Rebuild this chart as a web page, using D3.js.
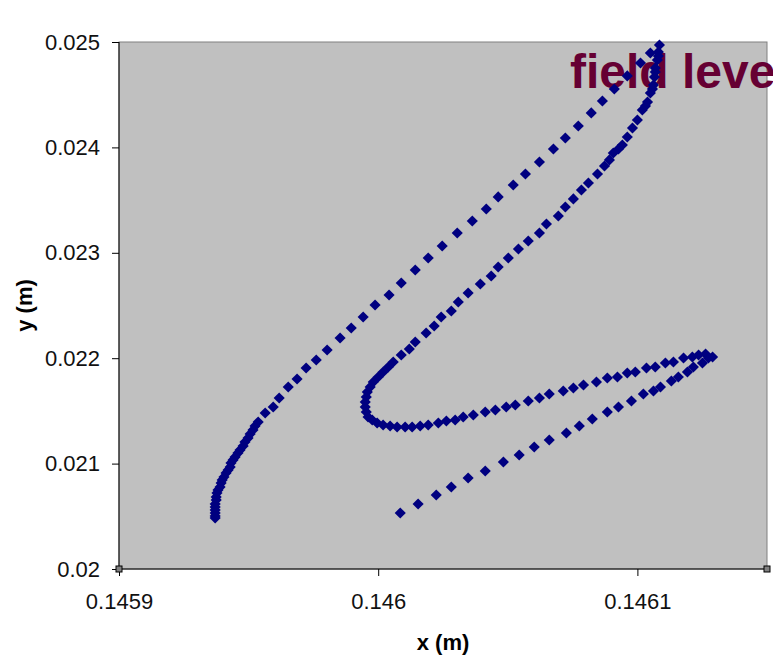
<!DOCTYPE html>
<html>
<head>
<meta charset="utf-8">
<script src="https://cdn.jsdelivr.net/npm/d3@7"></script>
<style>
  body { margin: 0; background: #fff; }
  svg { display: block; }
</style>
</head>
<body>
<div id="chart"></div>
<script>
// trajectory, in metres, in the order it was recorded
var xs = [
  0.1460085, 0.1460154, 0.1460224, 0.1460282, 0.1460347, 0.1460413, 0.1460483, 0.1460544,
  0.1460602, 0.1460660, 0.1460726, 0.1460776, 0.1460826, 0.1460884, 0.1460927, 0.1460977,
  0.1461023, 0.1461062, 0.1461089, 0.1461131, 0.1461158, 0.1461193, 0.1461216, 0.1461251,
  0.1461274, 0.1461290,
  0.1461263, 0.1461236, 0.1461212, 0.1461178, 0.1461139, 0.1461108, 0.1461069, 0.1461035,
  0.1460992, 0.1460961, 0.1460923, 0.1460884, 0.1460842, 0.1460792, 0.1460753, 0.1460714,
  0.1460660, 0.1460622, 0.1460579, 0.1460529, 0.1460494, 0.1460452, 0.1460413, 0.1460367,
  0.1460328, 0.1460297, 0.1460263, 0.1460232, 0.1460193, 0.1460162, 0.1460131, 0.1460104,
  0.1460073, 0.1460046, 0.1460019, 0.1459996, 0.1459977, 0.1459961, 0.1459954, 0.1459950,
  0.1459950, 0.1459954, 0.1459958, 0.1459969, 0.1459981, 0.1460000, 0.1460019, 0.1460039,
  0.1460058, 0.1460089, 0.1460120, 0.1460143, 0.1460185, 0.1460216, 0.1460243, 0.1460282,
  0.1460309, 0.1460347, 0.1460394, 0.1460436, 0.1460463, 0.1460502, 0.1460541, 0.1460579,
  0.1460622, 0.1460649, 0.1460695, 0.1460722, 0.1460753, 0.1460784, 0.1460811, 0.1460846,
  0.1460873, 0.1460892, 0.1460907, 0.1460927, 0.1460942, 0.1460961, 0.1460981, 0.1461000,
  0.1461019, 0.1461031, 0.1461039, 0.1461050, 0.1461058, 0.1461062, 0.1461066, 0.1461069,
  0.1461069, 0.1461077, 0.1461081, 0.1461081, 0.1461085,
  0.1461050, 0.1461012, 0.1460961, 0.1460911, 0.1460865, 0.1460822, 0.1460772, 0.1460722,
  0.1460676, 0.1460622, 0.1460568, 0.1460521, 0.1460463, 0.1460417, 0.1460363, 0.1460305,
  0.1460247, 0.1460193, 0.1460143, 0.1460089, 0.1460042, 0.1459988, 0.1459942, 0.1459896,
  0.1459853, 0.1459803, 0.1459761, 0.1459722, 0.1459687, 0.1459653, 0.1459618, 0.1459595,
  0.1459564, 0.1459537, 0.1459525, 0.1459517, 0.1459506, 0.1459498, 0.1459486, 0.1459479,
  0.1459467, 0.1459459, 0.1459448, 0.1459440, 0.1459432, 0.1459429, 0.1459421, 0.1459413,
  0.1459405, 0.1459398, 0.1459394, 0.1459390, 0.1459382, 0.1459378, 0.1459375, 0.1459375,
  0.1459371, 0.1459371, 0.1459371, 0.1459371, 0.1459371, 0.1459371
]
var ys = [
  0.020531, 0.020617, 0.020702, 0.020778, 0.020863, 0.020930, 0.021015, 0.021082,
  0.021158, 0.021224, 0.021290, 0.021357, 0.021423, 0.021490, 0.021537, 0.021594,
  0.021660, 0.021689, 0.021727, 0.021784, 0.021822, 0.021869, 0.021917, 0.021955,
  0.022002, 0.022011,
  0.022040, 0.022030, 0.022011, 0.022002, 0.021964, 0.021955, 0.021917, 0.021907,
  0.021869, 0.021860, 0.021822, 0.021812, 0.021774, 0.021746, 0.021717, 0.021689,
  0.021660, 0.021622, 0.021594, 0.021556, 0.021537, 0.021509, 0.021490, 0.021461,
  0.021442, 0.021414, 0.021404, 0.021385, 0.021366, 0.021357, 0.021347, 0.021347,
  0.021347, 0.021357, 0.021366, 0.021385, 0.021414, 0.021442, 0.021490, 0.021537,
  0.021584, 0.021632, 0.021679, 0.021727, 0.021774, 0.021822, 0.021869, 0.021917,
  0.021964, 0.022030, 0.022087, 0.022154, 0.022239, 0.022306, 0.022391, 0.022448,
  0.022533, 0.022619, 0.022704, 0.022780, 0.022865, 0.022951, 0.023036, 0.023112,
  0.023188, 0.023273, 0.023349, 0.023435, 0.023511, 0.023596, 0.023662, 0.023748,
  0.023824, 0.023881, 0.023947, 0.023985, 0.024023, 0.024099, 0.024184, 0.024260,
  0.024355, 0.024393, 0.024431, 0.024516, 0.024554, 0.024592, 0.024668, 0.024716,
  0.024753, 0.024829, 0.024867, 0.024905, 0.024972,
  0.024896, 0.024801, 0.024678, 0.024554, 0.024440, 0.024327, 0.024203, 0.024089,
  0.023985, 0.023862, 0.023748, 0.023643, 0.023530, 0.023416, 0.023302, 0.023188,
  0.023065, 0.022951, 0.022837, 0.022714, 0.022600, 0.022505, 0.022391, 0.022287,
  0.022192, 0.022078, 0.021983, 0.021907, 0.021803, 0.021727, 0.021622, 0.021537,
  0.021480, 0.021395, 0.021357, 0.021319, 0.021281, 0.021243, 0.021205, 0.021167,
  0.021129, 0.021101, 0.021063, 0.021034, 0.021006, 0.020968, 0.020939, 0.020911,
  0.020873, 0.020844, 0.020816, 0.020778, 0.020750, 0.020721, 0.020683, 0.020655,
  0.020617, 0.020588, 0.020560, 0.020531, 0.020503, 0.020484
]
var xTicks = [0.1459, 0.146, 0.1461]
var yTicks = [0.02, 0.021, 0.022, 0.023, 0.024, 0.025]
var xLabel = "x (m)"
var yLabel = "y (m)"
var title = "field leve"

var width = 773
var height = 660
var plotLeft = 119, plotRight = 767, plotTop = 42, plotBottom = 569

var svg = d3.select("#chart").append("svg")
    .attr("width", width)
    .attr("height", height)
    .style("font-family", "'Liberation Sans', Arial, sans-serif")

var x = d3.scaleLinear().domain([0.1459, 0.14615]).range([plotLeft, plotRight])
var y = d3.scaleLinear().domain([0.02, 0.025]).range([plotBottom, plotTop])

// plot area
svg.append("rect")
    .attr("x", plotLeft).attr("y", plotTop)
    .attr("width", plotRight - plotLeft).attr("height", plotBottom - plotTop)
    .attr("fill", "#c0c0c0")
    .attr("stroke", "#808080")
    .attr("stroke-width", 1)

var xAxis = svg.append("g")
    .attr("transform", "translate(0," + plotBottom + ")")
    .call(d3.axisBottom(x).tickValues(xTicks).tickSize(7).tickPadding(17).tickFormat(function(d) { return String(d) }))
xAxis.select(".domain").attr("stroke", "#000").attr("d", "M" + plotLeft + ",0H" + plotRight)
xAxis.selectAll("text").attr("font-size", 22).attr("fill", "#111").attr("font-family", null)

var yAxis = svg.append("g")
    .attr("transform", "translate(" + plotLeft + ",0)")
    .call(d3.axisLeft(y).tickValues(yTicks).tickSize(7).tickPadding(12).tickFormat(function(d) { return String(d) }))
yAxis.select(".domain").attr("stroke", "#000").attr("d", "M0," + plotTop + "V" + plotBottom)
yAxis.selectAll("text").attr("font-size", 22).attr("fill", "#111").attr("font-family", null)

// corner handles
svg.selectAll("rect.handle")
    .data([[plotLeft, plotBottom], [plotRight, plotBottom]])
    .enter().append("rect")
    .attr("class", "handle")
    .attr("x", function(d) { return d[0] - 3 })
    .attr("y", function(d) { return d[1] - 3 })
    .attr("width", 6).attr("height", 6)
    .attr("fill", "#808080").attr("stroke", "#000")

svg.append("text")
    .attr("x", (plotLeft + plotRight) / 2)
    .attr("y", 650)
    .attr("text-anchor", "middle")
    .attr("font-size", 22)
    .attr("font-weight", "bold")
    .text(xLabel)

svg.append("text")
    .attr("transform", "translate(32," + (plotTop + plotBottom) / 2 + ") rotate(-90)")
    .attr("text-anchor", "middle")
    .attr("font-size", 22)
    .attr("font-weight", "bold")
    .text(yLabel)

svg.append("text")
    .attr("x", 570)
    .attr("y", 88)
    .attr("font-size", 48)
    .attr("font-weight", "bold")
    .attr("fill", "#660033")
    .text(title)

var diamond = d3.symbol().type(d3.symbolSquare).size(62)
svg.append("g").selectAll("path")
    .data(d3.range(xs.length))
    .enter().append("path")
    .attr("d", diamond)
    .attr("transform", function(i) { return "translate(" + x(xs[i]) + "," + y(ys[i]) + ") rotate(45)" })
    .attr("fill", "#000080")
</script>
</body>
</html>
